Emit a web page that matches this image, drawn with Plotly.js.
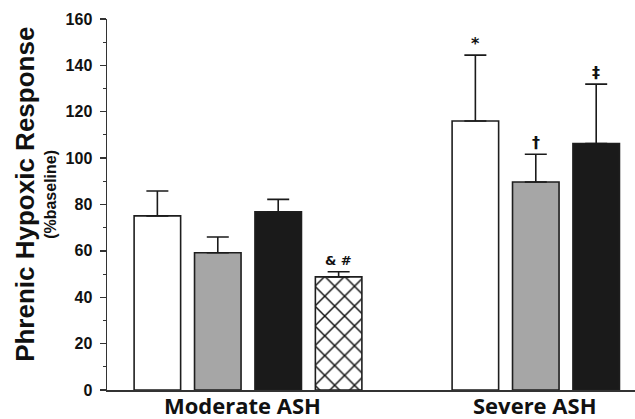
<!DOCTYPE html>
<html>
<head>
<meta charset="utf-8">
<script src="https://cdn.plot.ly/plotly-3.0.1.min.js"></script>
<style>html,body{margin:0;padding:0;background:#fff;}#chart{width:635px;height:419px;}</style>
</head>
<body>
<div id="chart"></div>
<script>
// ---- data ----
var groups = ["Moderate ASH", "Severe ASH"];
var whiteMean = [75.1, 116.0];
var whiteErr  = [10.7, 28.4];
var grayMean  = [59.2, 89.7];
var grayErr   = [6.8, 12.0];
var blackMean = [76.9, 106.3];
var blackErr  = [5.3, 25.6];
var hatchGroups = ["Moderate ASH"];
var hatchMean = [48.8];
var hatchErr  = [2.2];
var yTicks = [0, 20, 40, 60, 80, 100, 120, 140, 160];
var sigMarks = [
  {g: 1, slot: 0, text: "*", y: 116.0 + 28.4},
  {g: 1, slot: 1, text: "†", y: 89.7 + 12.0},
  {g: 1, slot: 2, text: "‡", y: 106.3 + 25.6},
  {g: 0, slot: 3, text: "& #", y: 48.8 + 2.2}
];

var bargap = 0.24;
var nSlots = 4;

function errBar(arr) {
  return {type: 'data', symmetric: false, array: arr, arrayminus: arr.map(function(){return 0;}),
          color: '#1a1a1a', thickness: 1.6, width: 11};
}
var outline = {color: '#1e1e1e', width: 1.6};

var traces = [
  {type: 'bar', x: groups, y: whiteMean, error_y: errBar(whiteErr),
   marker: {color: '#ffffff', line: outline}},
  {type: 'bar', x: groups, y: grayMean, error_y: errBar(grayErr),
   marker: {color: '#a6a6a6', line: outline}},
  {type: 'bar', x: groups, y: blackMean, error_y: errBar(blackErr),
   marker: {color: '#1a1a1a', line: outline}},
  {type: 'bar', x: hatchGroups, y: hatchMean, error_y: errBar(hatchErr),
   marker: {color: '#ffffff', line: outline,
            pattern: {shape: 'x', fgcolor: '#111111', bgcolor: '#ffffff', size: 14, solidity: 0.2}}}
];

var gw = 1 - bargap;
function slotPos(g, k) { return g - gw / 2 + gw / nSlots * (k + 0.5); }

var annotations = sigMarks.map(function (m) {
  var multi = m.text.length > 1;
  return {x: slotPos(m.g, m.slot), y: m.y, xref: 'x', yref: 'y', text: '<b>' + m.text + '</b>', showarrow: false,
          xanchor: 'center', yanchor: 'bottom', yshift: multi ? 2 : 0,
          font: {family: 'DejaVu Sans', size: multi ? 13 : 16, color: '#111111'}};
});
// group labels
annotations.push({x: 0, y: 0, xref: 'x', yref: 'y', xshift: -6, yshift: 1, xanchor: 'center', yanchor: 'top',
  borderpad: 0, text: '<b>' + groups[0] + '</b>', showarrow: false,
  font: {family: 'Open Sans', size: 22, color: '#111'}});
annotations.push({x: 1, y: 0, xref: 'x', yref: 'y', xshift: -31, yshift: 1, xanchor: 'center', yanchor: 'top',
  borderpad: 0, text: '<b>' + groups[1] + '</b>', showarrow: false,
  font: {family: 'Open Sans', size: 22, color: '#111'}});
// y titles
annotations.push({x: 0, y: 0.526, xref: 'paper', yref: 'paper', xshift: -82, textangle: -90,
  xanchor: 'center', yanchor: 'middle',
  text: '<b>Phrenic Hypoxic Response</b>', showarrow: false,
  font: {family: 'Liberation Sans, Arial', size: 26, color: '#111'}});
annotations.push({x: 0, y: 0.526, xref: 'paper', yref: 'paper', xshift: -56, textangle: -90,
  xanchor: 'center', yanchor: 'middle',
  text: '<b>(%baseline)</b>', showarrow: false,
  font: {family: 'Liberation Sans, Arial', size: 16, color: '#111'}});

var layout = {
  width: 635, height: 419,
  margin: {l: 107, r: 0, t: 19, b: 29},
  paper_bgcolor: '#ffffff', plot_bgcolor: '#ffffff',
  showlegend: false,
  barmode: 'group', bargap: bargap, bargroupgap: 0.23,
  xaxis: {type: 'category', range: [-0.4434, 1.217], showticklabels: false, ticks: '',
          showline: true, linecolor: '#333', linewidth: 1.5, showgrid: false, zeroline: false,
          fixedrange: true},
  yaxis: {range: [0, 160], tickvals: yTicks, ticktext: yTicks.map(function(v){return '<b>' + v + '</b>';}),
          ticks: 'outside', ticklen: 6, tickwidth: 1.3, ticklabelstandoff: 4,
          tickcolor: '#333', showline: true, linecolor: '#333', linewidth: 1.5,
          showgrid: false, zeroline: false,
          minor: {dtick: 10, ticks: 'outside', ticklen: 3, tickwidth: 1, tickcolor: '#333', showgrid: false},
          tickfont: {family: 'Liberation Sans, Arial', size: 16, color: '#111'}},
  annotations: annotations
};

Plotly.newPlot('chart', traces, layout, {staticPlot: true, displayModeBar: false});
</script>
</body>
</html>
